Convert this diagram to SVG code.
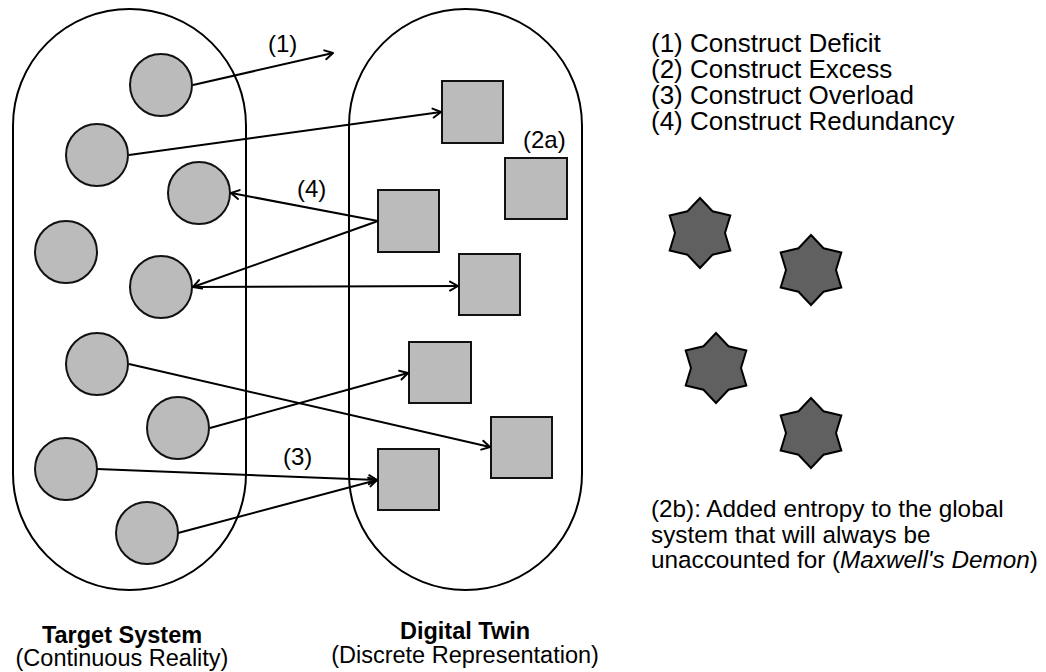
<svg xmlns="http://www.w3.org/2000/svg" xmlns:xlink="http://www.w3.org/1999/xlink" width="1046" height="672" viewBox="0 0 1046 672">
  <style>
    text { font-family: "Liberation Sans", Arial, sans-serif; fill: #000; }
    .pill { fill: none; stroke: #000; stroke-width: 2; }
    .real { fill: #bbbbbb; stroke: #111; stroke-width: 2; }
    .twin { fill: #bbbbbb; stroke: #111; stroke-width: 2; }
    .demon { fill: #606060; stroke: #000; stroke-width: 2; stroke-linejoin: miter; }
    .link { fill: none; stroke: #000; stroke-width: 2; marker-end: url(#arrow); }
    .lbl { font-size: 24px; }
    .legend { font-size: 26px; }
    .note { font-size: 24.3px; }
    .title { font-size: 23.5px; font-weight: bold; text-anchor: middle; }
    .sub { font-size: 23.5px; text-anchor: middle; }
  </style>
  <defs>
    <marker id="arrow" markerUnits="userSpaceOnUse" markerWidth="14" markerHeight="14" viewBox="0 0 14 14" refX="12" refY="7" orient="auto">
      <path d="M4,2.5 L12,7 L4,11.5" fill="none" stroke="#000" stroke-width="2" stroke-linecap="round" stroke-linejoin="round"/>
    </marker>
    <!-- six-pointed star, outer radius 35, inner radius 25 -->
    <polygon id="star" points="0,-35 12.5,-21.7 30.3,-17.5 25,0 30.3,17.5 12.5,21.7 0,35 -12.5,21.7 -30.3,17.5 -25,0 -30.3,-17.5 -12.5,-21.7"/>
  </defs>
  <rect width="1046" height="672" fill="#fff"/>

  <!-- system containers -->
  <g id="target-system">
    <rect class="pill" x="13" y="9" width="233" height="581" rx="116.5" ry="116.5"/>
    <text class="title" x="122" y="643">Target System</text>
    <text class="sub" x="122" y="666">(Continuous Reality)</text>
  </g>
  <g id="digital-twin">
    <rect class="pill" x="349" y="9" width="233" height="581" rx="116.5" ry="116.5"/>
    <text class="title" x="465" y="639">Digital Twin</text>
    <text class="sub" x="465" y="663">(Discrete Representation)</text>
  </g>

  <!-- real-world entities -->
  <g id="c1"><circle class="real" cx="161" cy="85" r="31"/></g>
  <g id="c2"><circle class="real" cx="97" cy="155" r="31"/></g>
  <g id="c3"><circle class="real" cx="199" cy="193" r="31"/></g>
  <g id="c4"><circle class="real" cx="66" cy="252" r="31"/></g>
  <g id="c5"><circle class="real" cx="161" cy="287" r="31"/></g>
  <g id="c6"><circle class="real" cx="97" cy="364" r="31"/></g>
  <g id="c7"><circle class="real" cx="178" cy="428" r="31"/></g>
  <g id="c8"><circle class="real" cx="66" cy="469" r="31"/></g>
  <g id="c9"><circle class="real" cx="147" cy="533" r="31"/></g>

  <!-- twin constructs -->
  <g id="s1"><rect class="twin" x="442" y="81" width="61" height="62"/></g>
  <g id="s2"><rect class="twin" x="505" y="158" width="62" height="61"/></g>
  <g id="s3"><rect class="twin" x="378" y="190" width="61" height="62"/></g>
  <g id="s4"><rect class="twin" x="459" y="254" width="61" height="61"/></g>
  <g id="s5"><rect class="twin" x="409" y="342" width="62" height="61"/></g>
  <g id="s6"><rect class="twin" x="491" y="417" width="61" height="61"/></g>
  <g id="s7"><rect class="twin" x="378" y="449" width="61" height="61"/></g>

  <!-- mappings -->
  <g id="connectors">
    <line class="link" x1="193" y1="85" x2="333" y2="53"/>
    <line class="link" x1="129" y1="155" x2="441" y2="112"/>
    <line class="link" x1="378" y1="221" x2="231" y2="193"/>
    <line class="link" x1="378" y1="221" x2="193" y2="287"/>
    <line class="link" x1="193" y1="287" x2="458" y2="286"/>
    <line class="link" x1="129" y1="364" x2="490" y2="447"/>
    <line class="link" x1="210" y1="428" x2="408" y2="373"/>
    <line class="link" x1="97" y1="469" x2="377" y2="480"/>
    <line class="link" x1="178" y1="533" x2="377" y2="480"/>
  </g>

  <!-- mapping labels -->
  <g id="labels">
    <text class="lbl" x="268" y="52">(1)</text>
    <text class="lbl" x="297" y="197">(4)</text>
    <text class="lbl" x="523" y="148">(2a)</text>
    <text class="lbl" x="283" y="465">(3)</text>
  </g>

  <!-- legend -->
  <g id="legend">
    <text class="legend" x="651" y="52">(1) Construct Deficit</text>
    <text class="legend" x="651" y="78">(2) Construct Excess</text>
    <text class="legend" x="651" y="104">(3) Construct Overload</text>
    <text class="legend" x="651" y="130">(4) Construct Redundancy</text>
  </g>

  <!-- Maxwell's demons -->
  <g id="demon1"><use xlink:href="#star" class="demon" transform="translate(700,233)"/></g>
  <g id="demon2"><use xlink:href="#star" class="demon" transform="translate(811,270)"/></g>
  <g id="demon3"><use xlink:href="#star" class="demon" transform="translate(716,368)"/></g>
  <g id="demon4"><use xlink:href="#star" class="demon" transform="translate(811,433)"/></g>

  <g id="entropy-note">
    <text class="note" x="651" y="517">(2b): Added entropy to the global</text>
    <text class="note" x="651" y="543">system that will always be</text>
    <text class="note" x="651" y="568">unaccounted for (<tspan font-style="italic">Maxwell's Demon</tspan>)</text>
  </g>
</svg>
